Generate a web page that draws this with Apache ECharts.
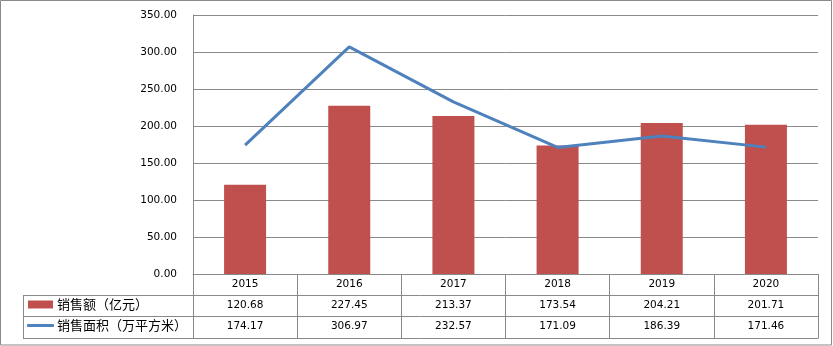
<!DOCTYPE html>
<html>
<head>
<meta charset="utf-8">
<script src="https://cdn.jsdelivr.net/npm/echarts@6/dist/echarts.min.js"></script>
<style>
  html, body { margin: 0; padding: 0; background: #fff; }
  #chart { width: 833px; height: 346px; }
</style>
</head>
<body>
<div id="chart"></div>
<script>
// Annual sales figures
const years = ['2015', '2016', '2017', '2018', '2019', '2020'];
const salesAmount = [120.68, 227.45, 213.37, 173.54, 204.21, 201.71];   // 亿元
const salesArea = [174.17, 306.97, 232.57, 171.09, 186.39, 171.46];     // 万平方米
const yTicks = { min: 0, max: 350, step: 50 };

const amountName = '销售额（亿元）';
const areaName = '销售面积（万平方米）';

const BORDER = '#898989';
const NUM_FONT = 'DejaVu Sans';
const CJK_FONT = 'Noto Sans CJK SC';

const chart = echarts.init(document.getElementById('chart'), null, { renderer: 'canvas' });

// Data-table rows under the category axis
const tableLine = (y, x1, x2) => ({
  type: 'line',
  shape: { x1: x1, y1: y, x2: x2, y2: y },
  style: { stroke: BORDER, lineWidth: 1 },
  silent: true
});

chart.setOption({
  animation: false,
  grid: { left: 193, top: 15, width: 625, height: 259, containLabel: false },
  legend: [
    {
      data: [{ name: amountName, icon: 'rect' }],
      left: 28, top: 298, padding: 0,
      itemWidth: 25, itemHeight: 8,
      textStyle: { fontFamily: CJK_FONT, fontSize: 13, color: '#000', padding: [0, 0, 0, -1] }
    },
    {
      data: [{ name: areaName, icon: 'roundRect' }],
      left: 27, top: 319, padding: 0,
      itemWidth: 27, itemHeight: 3,
      textStyle: { fontFamily: CJK_FONT, fontSize: 13, color: '#000', padding: [0, 0, 0, -2] }
    }
  ],
  xAxis: {
    type: 'category',
    data: years,
    boundaryGap: true,
    axisLine: { show: true, lineStyle: { color: BORDER, width: 1 } },
    axisTick: { show: true, length: 64, interval: 0, lineStyle: { color: BORDER } },
    axisLabel: {
      interval: 0,
      margin: 0,
      lineHeight: 21,
      fontFamily: NUM_FONT,
      fontSize: 10.5,
      color: '#000',
      formatter: (v, i) => v + '\n' + salesAmount[i].toFixed(2) + '\n' + salesArea[i].toFixed(2)
    }
  },
  yAxis: {
    type: 'value',
    min: yTicks.min, max: yTicks.max, interval: yTicks.step,
    axisLine: { show: true, lineStyle: { color: BORDER, width: 1 } },
    axisTick: { show: false },
    splitLine: { show: true, lineStyle: { color: BORDER, width: 1 } },
    axisLabel: {
      margin: 16,
      fontFamily: NUM_FONT,
      fontSize: 10.5,
      color: '#000',
      formatter: v => v.toFixed(2)
    }
  },
  series: [
    {
      name: amountName,
      type: 'bar',
      data: salesAmount,
      barWidth: 42,
      itemStyle: { color: '#C0504D' }
    },
    {
      name: areaName,
      type: 'line',
      data: salesArea,
      symbol: 'none',
      lineStyle: { color: '#4F81BD', width: 3 },
      itemStyle: { color: '#4F81BD' }
    }
  ],
  graphic: [
    {
      type: 'rect',
      shape: { x: 0.5, y: 0.5, width: 831, height: 344.5 },
      style: { fill: null, stroke: BORDER, lineWidth: 1 },
      silent: true, z: -1
    },
    tableLine(295.5, 23, 818),
    tableLine(316.5, 23, 818),
    tableLine(338.5, 23, 818.5),
    {
      type: 'line',
      shape: { x1: 23.5, y1: 295, x2: 23.5, y2: 339 },
      style: { stroke: BORDER, lineWidth: 1 },
      silent: true
    }
  ]
});
</script>
</body>
</html>
